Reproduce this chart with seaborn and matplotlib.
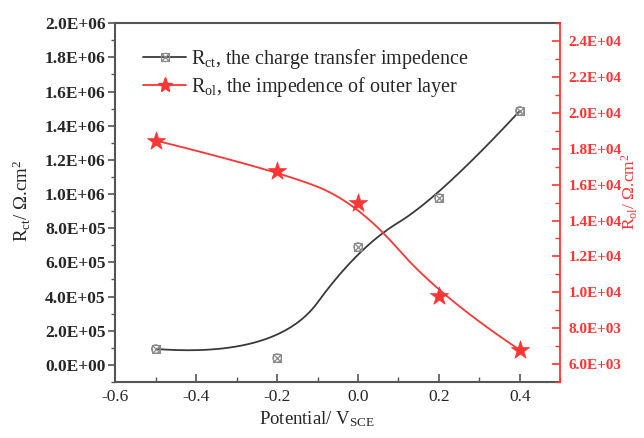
import numpy as np
import pandas as pd
import matplotlib
matplotlib.use("Agg")
import matplotlib.pyplot as plt
import seaborn as sns
from matplotlib.lines import Line2D
from matplotlib.legend_handler import HandlerTuple
from matplotlib.ticker import MultipleLocator, FuncFormatter

# ---- data ----
potential = [-0.5, -0.2, 0.0, 0.2, 0.4]
r_ct = [9.3e4, 4.0e4, 6.9e5, 9.77e5, 1.487e6]
r_ol = [1.846e4, 1.678e4, 1.498e4, 9.79e3, 6.78e3]
label_ct = r"R$_{\mathrm{ct}}$, the charge transfer impedence"
label_ol = r"R$_{\mathrm{ol}}$, the impedence of outer layer"
xlabel = r"Potential/ V$_{\mathrm{SCE}}$"
ylabel_left = r"R$_{\mathrm{ct}}$/ Ω.cm$^{2}$"
ylabel_right = r"R$_{\mathrm{ol}}$/ Ω.cm$^{2}$"

sns.set_style("white")
plt.rcParams["font.family"] = ["Liberation Serif", "DejaVu Serif"]
plt.rcParams["mathtext.fontset"] = "custom"
plt.rcParams["mathtext.rm"] = "Liberation Serif"
plt.rcParams["mathtext.it"] = "Liberation Serif:italic"
plt.rcParams["mathtext.bf"] = "Liberation Serif:bold"


def bspline(px, py, k=2, n=400):
    """Clamped uniform B-spline (line-connection smoothing)."""
    px = np.asarray(px, float)
    py = np.asarray(py, float)
    m = len(px)
    interior = list(np.linspace(0, 1, m - k + 1)[1:-1])
    knots = np.array([0.0] * (k + 1) + interior + [1.0] * (k + 1))
    t = np.linspace(0, 1, n)
    t[-1] = 1 - 1e-12
    N = np.zeros((len(knots) - 1, n))
    for i in range(len(knots) - 1):
        N[i] = (t >= knots[i]) & (t < knots[i + 1])
    for d in range(1, k + 1):
        Nn = np.zeros((len(knots) - 1 - d, n))
        for i in range(len(knots) - 1 - d):
            a = knots[i + d] - knots[i]
            b = knots[i + d + 1] - knots[i + 1]
            term = np.zeros(n)
            if a > 0:
                term += (t - knots[i]) / a * N[i]
            if b > 0:
                term += (knots[i + d + 1] - t) / b * N[i + 1]
            Nn[i] = term
        N = Nn
    return N.T @ px, N.T @ py


fig = plt.figure(figsize=(6.44, 4.38), dpi=100)
ax = fig.add_axes([0.179, 0.128, 0.691, 0.819])
ax2 = ax.twinx()

black_line = "#3a3a3a"
black_mk = "#8a8a8a"
red = "#ff3535"

cx, cy = bspline(potential, r_ct)
rx, ry = bspline(potential, r_ol)
df_ct = pd.DataFrame({"x": cx, "y": cy})
df_ol = pd.DataFrame({"x": rx, "y": ry})

sns.lineplot(data=df_ct, x="x", y="y", ax=ax, color=black_line, lw=1.3,
             sort=False, estimator=None, legend=False)
for mk in ["s", "o"]:
    sns.scatterplot(x=potential, y=r_ct, ax=ax, marker=mk, s=36,
                    facecolors="none", edgecolors=black_mk,
                    linewidth=0.8, zorder=5, legend=False)
sns.scatterplot(x=potential, y=r_ct, ax=ax, marker="x", s=30,
                color=black_mk, linewidth=0.9, zorder=5, legend=False)

sns.lineplot(data=df_ol, x="x", y="y", ax=ax2, color=red, lw=1.3,
             sort=False, estimator=None, legend=False)
sns.scatterplot(x=potential, y=r_ol, ax=ax2, marker="*", s=190, color=red,
                edgecolor=red, linewidth=0.5, zorder=5, legend=False)

ax.set_xlim(-0.6, 0.5)
ax.set_ylim(-1e5, 2.0e6)

ax.xaxis.set_major_locator(MultipleLocator(0.2))
ax.xaxis.set_minor_locator(MultipleLocator(0.1))
ax.yaxis.set_major_locator(MultipleLocator(2e5))
ax.yaxis.set_minor_locator(MultipleLocator(1e5))
ax2.yaxis.set_minor_locator(MultipleLocator(1e3))


def sci(v, pos):
    s = "%.1E" % v
    mant, ex = s.split("E")
    return f"{mant}E{ex[0]}{ex[1:].zfill(2)}"


ax.yaxis.set_major_formatter(FuncFormatter(sci))
ax2.yaxis.set_major_formatter(FuncFormatter(sci))
ax.xaxis.set_major_formatter(FuncFormatter(lambda v, p: f"{v:.1f}" if abs(v) > 1e-9 else "0.0"))

ax2.set_yticks(np.arange(6e3, 2.41e4, 2e3))
ax2.set_ylim(5.0e3, 2.5e4)

spine_c = "#555555"
for s in ["left", "bottom", "top"]:
    ax.spines[s].set_color(spine_c)
    ax.spines[s].set_linewidth(1.5)
    ax.spines[s].set_visible(True)
ax.spines["right"].set_visible(False)
for s in ["left", "bottom", "top"]:
    ax2.spines[s].set_visible(False)
ax2.spines["right"].set_visible(True)
ax2.spines["right"].set_color(red)
ax2.spines["right"].set_linewidth(1.3)

ax.tick_params(axis="y", which="major", direction="out", length=5, width=1.2,
               color=spine_c, labelsize=12.5, pad=2, left=True)
ax.tick_params(axis="y", which="minor", direction="out", length=3, width=1.0,
               color=spine_c, left=True)
ax.tick_params(axis="x", which="major", direction="in", length=6, width=1.2,
               color=spine_c, labelsize=12.5, pad=5, bottom=True)
ax.tick_params(axis="x", which="minor", direction="in", length=3.5, width=1.0,
               color=spine_c, bottom=True)
ax2.tick_params(axis="y", which="major", direction="in", length=6, width=1.2,
                color=red, labelcolor=red, labelsize=11, pad=6, right=True)
ax2.tick_params(axis="y", which="minor", direction="in", length=3.5, width=1.0,
                color=red, right=True)
for lab in ax.get_yticklabels() + ax2.get_yticklabels():
    lab.set_fontweight("bold")

ax.set_xlabel(xlabel, fontsize=13.5)
ax.xaxis.set_label_coords(0.452, -0.076)
ax.set_ylabel(ylabel_left, fontsize=13.5)
ax.yaxis.set_label_coords(-0.186, 0.504)
ax2.set_ylabel(ylabel_right, fontsize=12.5, color=red)
ax2.yaxis.set_label_coords(1.134, 0.53)

h_ct = (Line2D([], [], color=black_line, lw=1.3),
        Line2D([], [], ls="none", marker="s", ms=6, mfc="none", mec=black_mk, mew=0.8),
        Line2D([], [], ls="none", marker="o", ms=6, mfc="none", mec=black_mk, mew=0.8),
        Line2D([], [], ls="none", marker="x", ms=5.5, mec=black_mk, mew=0.9))
h_ol = (Line2D([], [], color=red, lw=1.3),
        Line2D([], [], ls="none", marker="*", ms=11, color=red))
leg = ax.legend([h_ct, h_ol], [label_ct, label_ol],
                handler_map={tuple: HandlerTuple(ndivide=1)},
                loc="upper left", bbox_to_anchor=(0.045, 0.955), frameon=False,
                fontsize=14.5, handlelength=2.1, handletextpad=0.25,
                labelspacing=0.2, borderaxespad=0)

fig.savefig("out.png", dpi=100)
